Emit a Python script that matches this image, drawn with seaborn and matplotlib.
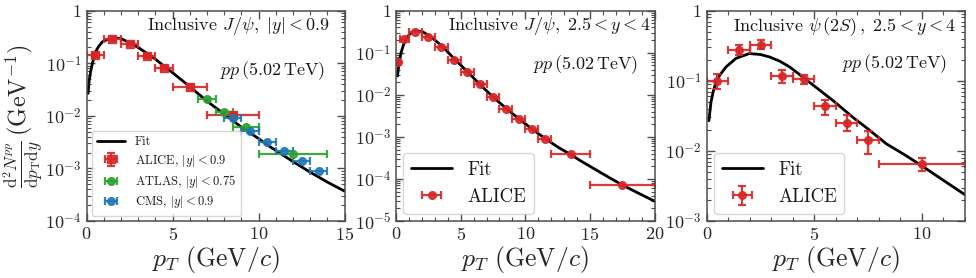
import numpy as np
import pandas as pd
import matplotlib
matplotlib.use("Agg")
import matplotlib.pyplot as plt
import seaborn as sns
from matplotlib.ticker import FuncFormatter, LogLocator, MultipleLocator, NullFormatter

# ---------------- data ----------------
# Panel 1: inclusive J/psi, |y|<0.9
p1_fit_pt = [0.08, 0.15, 0.23, 0.35, 0.52, 0.7, 0.91, 1.2, 1.5, 1.75, 2.0, 2.5, 3.0, 3.5, 4.0, 4.5,
             5.0, 6.0, 7.0, 8.0, 9.0, 10.0, 10.5, 11.0, 12.0, 13.0, 14.0, 15.0]
p1_fit_y = [0.0267, 0.048, 0.069, 0.105, 0.166, 0.21, 0.255, 0.285, 0.298, 0.30, 0.295, 0.245, 0.2,
            0.155, 0.12, 0.088, 0.066, 0.036, 0.019, 0.0108, 0.0061, 0.0037, 0.0028, 0.0022, 0.00135,
            0.00085, 0.00055, 0.00037]
alice1_pt = [0.5, 1.5, 2.5, 3.5, 4.5, 6.0, 8.5]
alice1_lo = [0.0, 1.0, 2.0, 3.0, 4.0, 5.0, 7.0]
alice1_hi = [1.0, 2.0, 3.0, 4.0, 5.0, 7.0, 10.0]
alice1_y = [0.142, 0.29, 0.234, 0.138, 0.083, 0.0358, 0.0105]
alice1_err = [0.012, 0.02, 0.016, 0.01, 0.006, 0.0025, 0.0008]
atlas_pt = [7.0, 8.0, 9.25, 12.0]
atlas_lo = [6.5, 7.5, 8.5, 10.0]
atlas_hi = [7.5, 8.5, 10.0, 14.0]
atlas_y = [0.0211, 0.0119, 0.0062, 0.00192]
cms_pt = [8.5, 9.5, 10.5, 11.5, 12.5, 13.5]
cms_lo = [8.0, 9.0, 10.0, 11.0, 12.0, 13.0]
cms_hi = [9.0, 10.0, 11.0, 12.0, 13.0, 14.0]
cms_y = [0.0093, 0.0052, 0.00315, 0.0021, 0.00139, 0.00091]

# Panel 2: inclusive J/psi, 2.5<y<4
p2_fit_pt = [0.12, 0.2, 0.3, 0.41, 0.6, 0.8, 1.05, 1.31, 1.7, 2.1, 2.6, 3.1, 3.63, 4.5, 5.5, 6.5,
             7.5, 8.5, 9.5, 10.5, 11.5, 12.5, 13.5, 14.5, 15.5, 16.5, 17.5, 18.5, 20.0]
p2_fit_y = [0.028, 0.046, 0.07, 0.105, 0.16, 0.219, 0.275, 0.316, 0.328, 0.31, 0.25, 0.19, 0.138,
            0.072, 0.036, 0.0175, 0.0089, 0.0048, 0.0027, 0.00155, 0.00093, 0.000575, 0.00038,
            0.000245, 0.000162, 0.000107, 7.2e-5, 5.0e-5, 2.95e-5]
alice2_pt = [0.15, 0.65, 1.5, 2.5, 3.5, 4.5, 5.5, 6.5, 7.5, 8.5, 9.5, 10.5, 11.5, 13.5, 17.5]
alice2_lo = [0.0, 0.3, 1.0, 2.0, 3.0, 4.0, 5.0, 6.0, 7.0, 8.0, 9.0, 10.0, 11.0, 12.0, 15.0]
alice2_hi = [0.3, 1.0, 2.0, 3.0, 4.0, 5.0, 6.0, 7.0, 8.0, 9.0, 10.0, 11.0, 12.0, 15.0, 20.0]
alice2_y = [0.059, 0.211, 0.31, 0.231, 0.138, 0.069, 0.035, 0.0178, 0.0087, 0.0047, 0.0027,
            0.0015, 0.00087, 0.000395, 7.3e-5]

# Panel 3: inclusive psi(2S), 2.5<y<4
p3_fit_pt = [0.1, 0.2, 0.3, 0.43, 0.6, 0.9, 1.36, 1.98, 2.5, 2.92, 3.4, 3.85, 4.47, 5.26, 5.86,
             6.8, 7.5, 8.35, 9.2, 9.97, 11.0, 12.0]
p3_fit_y = [0.027, 0.05, 0.07, 0.096, 0.12, 0.158, 0.209, 0.245, 0.237, 0.219, 0.19, 0.158, 0.113,
            0.073, 0.0525, 0.030, 0.0205, 0.0126, 0.0088, 0.0062, 0.0038, 0.00237]
psi2s_pt = [0.5, 1.5, 2.5, 3.5, 4.5, 5.5, 6.5, 7.5, 10.0]
psi2s_lo = [0.0, 1.0, 2.0, 3.0, 4.0, 5.0, 6.0, 7.0, 8.0]
psi2s_hi = [1.0, 2.0, 3.0, 4.0, 5.0, 6.0, 7.0, 8.0, 12.0]
psi2s_y = [0.098, 0.273, 0.323, 0.116, 0.105, 0.0431, 0.0252, 0.0144, 0.0065]
psi2s_up = [0.124, 0.32, 0.376, 0.141, 0.12, 0.0537, 0.032, 0.0195, 0.0079]
psi2s_dn = [0.077, 0.237, 0.28, 0.094, 0.091, 0.032, 0.0191, 0.0089, 0.0051]

# ---------------- style ----------------
sns.set_style("ticks")
plt.rcParams.update({
    "font.family": ["serif"],
    "font.serif": ["cmr10", "DejaVu Serif"],
    "mathtext.fontset": "cm",
    "axes.formatter.use_mathtext": True,
    "axes.edgecolor": "0.3",
    "axes.linewidth": 1.1,
    "xtick.color": "0.3",
    "ytick.color": "0.3",
    "xtick.labelcolor": "0.15",
    "ytick.labelcolor": "0.15",
    "text.color": "0.1",
})

RED, GREEN, BLUE = "#d62728", "#2ca02c", "#1f77b4"

fig = plt.figure(figsize=(9.76, 2.78), dpi=100)
bottom, height = 0.205, 0.7565
ax1 = fig.add_axes([0.0888, bottom, 0.2642, height])
ax2 = fig.add_axes([0.4057, bottom, 0.2651, height])
ax3 = fig.add_axes([0.7241, bottom, 0.2646, height])


def xerr_of(c, lo, hi):
    c = np.asarray(c); return [c - np.asarray(lo), np.asarray(hi) - c]


def yfmt(v, pos):
    if abs(v - 1) < 1e-9:
        return r"$1$"
    e = int(round(np.log10(v)))
    return r"$10^{%d}$" % e


def style_axis(ax, xmax, ymin):
    ax.set_yscale("log")
    ax.set_xlim(0, xmax)
    ax.set_ylim(ymin, 1)
    ax.xaxis.set_major_locator(MultipleLocator(5))
    ax.xaxis.set_minor_locator(MultipleLocator(1))
    ax.yaxis.set_major_locator(LogLocator(base=10, numticks=12))
    ax.yaxis.set_minor_locator(LogLocator(base=10, subs=np.arange(2, 10), numticks=12))
    ax.yaxis.set_major_formatter(FuncFormatter(yfmt))
    ax.yaxis.set_minor_formatter(NullFormatter())
    ax.tick_params(which="both", direction="in", top=True, right=True, labelsize=13)
    ax.tick_params(which="major", length=6, width=1.0)
    ax.tick_params(which="minor", length=3, width=0.8)
    ax.set_xlabel(r"$p_T\ (\mathrm{GeV}/c)$", fontsize=18.5, labelpad=1)
    for s in ax.spines.values():
        s.set_visible(True)


eb_kw = dict(linestyle="none", capsize=3, elinewidth=1.6, capthick=1.6, alpha=0.9)

# Panel 1
sns.lineplot(x=p1_fit_pt, y=p1_fit_y, ax=ax1, color="black", lw=2, label="Fit", sort=False)
ax1.errorbar(alice1_pt, alice1_y, xerr=xerr_of(alice1_pt, alice1_lo, alice1_hi), yerr=alice1_err,
             fmt="s", color=RED, ms=5.5, label=r"ALICE, $|y|<0.9$", **eb_kw)
ax1.errorbar(atlas_pt, atlas_y, xerr=xerr_of(atlas_pt, atlas_lo, atlas_hi),
             fmt="o", color=GREEN, ms=5.5, label=r"ATLAS, $|y|<0.75$", **eb_kw)
ax1.errorbar(cms_pt, cms_y, xerr=xerr_of(cms_pt, cms_lo, cms_hi),
             fmt="o", color=BLUE, ms=5.5, label=r"CMS, $|y|<0.9$", **eb_kw)
style_axis(ax1, 15, 1e-4)
ax1.legend(loc="lower left", fontsize=9, borderaxespad=0.4, handlelength=2.2, labelspacing=0.35,
           borderpad=0.45)
ax1.text(0.945, 0.925, r"Inclusive $J/\psi,\ |y|<0.9$", transform=ax1.transAxes,
         ha="right", va="center", fontsize=13)
ax1.text(0.925, 0.715, r"$pp\,(5.02\,\mathrm{TeV})$", transform=ax1.transAxes,
         ha="right", va="center", fontsize=13)
ax1.set_ylabel(r"$\frac{\mathrm{d}^2N^{pp}}{\mathrm{d}p_\mathrm{T}\mathrm{d}y}\,(\mathrm{GeV}^{-1})$",
               fontsize=17.5, labelpad=0)

# Panel 2
sns.lineplot(x=p2_fit_pt, y=p2_fit_y, ax=ax2, color="black", lw=2, label="Fit", sort=False)
ax2.errorbar(alice2_pt, alice2_y, xerr=xerr_of(alice2_pt, alice2_lo, alice2_hi),
             fmt="o", color=RED, ms=5.5, label="ALICE", **eb_kw)
style_axis(ax2, 20, 1e-5)
ax2.legend(loc="lower left", fontsize=13.5, borderaxespad=0.4, handlelength=2.2)
ax2.text(0.985, 0.925, r"Inclusive $J/\psi,\ 2.5<y<4$", transform=ax2.transAxes,
         ha="right", va="center", fontsize=13)
ax2.text(0.935, 0.745, r"$pp\,(5.02\,\mathrm{TeV})$", transform=ax2.transAxes,
         ha="right", va="center", fontsize=13)

# Panel 3
sns.lineplot(x=p3_fit_pt, y=p3_fit_y, ax=ax3, color="black", lw=2, label="Fit", sort=False)
psi_y = np.asarray(psi2s_y)
ax3.errorbar(psi2s_pt, psi2s_y, xerr=xerr_of(psi2s_pt, psi2s_lo, psi2s_hi),
             yerr=[psi_y - np.asarray(psi2s_dn), np.asarray(psi2s_up) - psi_y],
             fmt="o", color=RED, ms=5.5, label="ALICE", **eb_kw)
style_axis(ax3, 12, 1e-3)
ax3.legend(loc="lower left", fontsize=13.5, borderaxespad=0.4, handlelength=2.2)
ax3.text(0.965, 0.925, r"Inclusive $\psi\,(2S)\,,\ 2.5<y<4$", transform=ax3.transAxes,
         ha="right", va="center", fontsize=13)
ax3.text(0.93, 0.75, r"$pp\,(5.02\,\mathrm{TeV})$", transform=ax3.transAxes,
         ha="right", va="center", fontsize=13)

fig.savefig("out.png", dpi=100)
